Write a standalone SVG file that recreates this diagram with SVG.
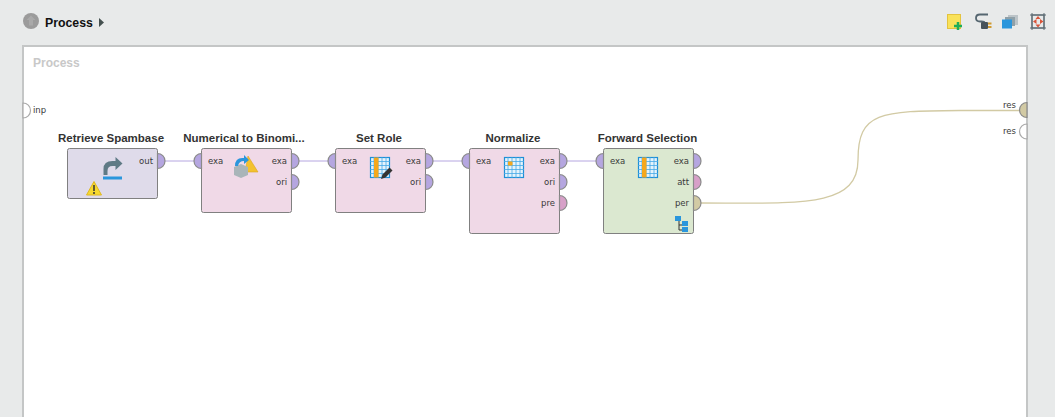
<svg xmlns="http://www.w3.org/2000/svg" width="1055" height="417" viewBox="0 0 1055 417">
<style>
.t{font-family:"Liberation Sans",Arial,sans-serif;font-size:11.500px;font-weight:bold;fill:#333;text-anchor:middle}
.p{font-family:"DejaVu Sans",sans-serif;font-size:8.500px;fill:#3a3a3a}
.e{text-anchor:end}
.n{stroke:#808080;stroke-width:1}
.pin{stroke:#8a8a8a;stroke-width:1.200}
.ex{fill:#b5a6e0}.pr{fill:#d7a0c8}.pe{fill:#d2caa4}.em{fill:#fff;stroke:#aaa}
.c{fill:none;stroke:#b5a6e0;stroke-width:1}
</style>
<defs>
<g id="grid"><rect x="0.500" y="0.500" width="19" height="20" fill="#e4f3fc" stroke="#1f8fd6" stroke-width="1.200"/><path d="M0 4.500H20M0 8.500H20M0 12.500H20M0 16.500H20M4 0V21M8 0V21M12 0V21M16 0V21" stroke="#45a8e6" stroke-width=".8" fill="none"/></g>
</defs>
<rect width="1055" height="417" fill="#e8eaea"/>
<g id="header">
<circle cx="31" cy="21" r="8" fill="#9b9b9b"/><path d="M31 15.500l-4.500 4.500h2.500v5.500h4V20h2.500z" fill="#a9a9a9"/>
<text x="45" y="27" font-family="Liberation Sans,Arial,sans-serif" font-size="12.300" font-weight="bold" fill="#111">Process</text>
<path d="M99 18l5 4.500-5 4.500z" fill="#44504f"/>
</g>
<g id="toolbar">
<rect x="947.500" y="14.500" width="13" height="14" fill="#f9e25a" stroke="#e3c33f"/><path d="M958 22v8M954 26h8" stroke="#1fae5a" stroke-width="2.500"/>
<path d="M988 14.500h-8q-4 0-4 3.500t4 3.500h1.500q3 0 3 1.500" fill="none" stroke="#556670" stroke-width="1.800"/><rect x="981" y="22" width="7" height="7" rx="1" fill="#46525a"/><path d="M988 23.500h3.500M988 27h3.500" stroke="#d09a30" stroke-width="1.800"/>
<rect x="1008" y="15" width="10" height="10" fill="#bcc4c8"/><rect x="1005" y="17" width="10" height="9" fill="#8fa0a8"/><rect x="1002" y="19.500" width="10" height="9" fill="#2a96dc"/>
<rect x="1032" y="15" width="12" height="13" fill="none" stroke="#5d6b73" stroke-width="1.200"/><path d="M1030 15h16M1030 28h16M1032 13v17M1044 13v17" stroke="#5d6b73" stroke-width="1"/><path d="M1038 16l2.500 3h-5zM1038 27.500l2.500-3h-5zM1033 21.500l3.500-2.500v5zM1043.500 21.500l-3.500-2.500v5z" fill="#d9553a"/>
</g>
<rect id="canvas" x="23" y="46" width="1004" height="373" fill="#fff" stroke="#c4c6c6" stroke-width="2"/>
<text x="33" y="67" font-family="Liberation Sans,Arial,sans-serif" font-size="12" font-weight="bold" fill="#c8c8c8">Process</text>
<g id="connectors">
<path class="c" d="M164 161H195M298 161H329M432 161H463M566 161H597"/>
<path d="M700 203C800 203 858 208 858 160C858 112 880 111 960 110.500L1020 110.500" fill="none" stroke="#d2caa4" stroke-width="1.300"/>
</g>
<g id="process-ports">
<path class="pin em" d="M23 103a7.500 7.500 0 0 1 0 15z"/><text class="p" x="33" y="113">inp</text>
<path class="pin pe" d="M1027 102.500a7.500 7.500 0 0 0 0 15z"/><text class="p e" x="1016" y="108">res</text>
<path class="pin em" d="M1027 124a7.500 7.500 0 0 0 0 15z"/><text class="p e" x="1016" y="134">res</text>
</g>
<g id="retrieve-spambase">
<text class="t" x="111" y="142">Retrieve Spambase</text>
<rect class="n" x="67.500" y="148.500" width="90" height="50" rx="2" fill="#dfdbea"/>
<path d="M103.500 175v-6q0-8 9-8h3v-4l7 6.500-7 6.500v-4h-3q-5 0-5 5v4z" fill="#5f7a85"/><rect x="103" y="176.500" width="19" height="3" fill="#2a96dc"/>
<path d="M94 181.500l7.500 13.500H86.500z" fill="#f6d92f" stroke="#e0b820"/><path d="M94 185v6M94 192v2" stroke="#333" stroke-width="1.500"/>
<path class="pin ex" d="M157.500 153.500a7.500 7.500 0 0 1 0 15z"/><text class="p e" x="153" y="164">out</text>
</g>
<g id="numerical-to-binominal">
<text class="t" x="244" y="142">Numerical to Binomi...</text>
<rect class="n" x="201.500" y="148.500" width="90" height="64" rx="2" fill="#f0d9e7"/>
<path d="M248 156l10 16h-13z" fill="#f3c22f" stroke="#dba520" stroke-width=".6"/>
<path d="M234 167l7-3 7 3v8l-7 3-7-3z" fill="#a9b5b9"/><path d="M235 166q0-9 9-8v-3l5 5-5 4v-3q-5 0-6 5z" fill="#2a96dc"/>
<path class="pin ex" d="M201.500 153.500a7.500 7.500 0 0 0 0 15z"/><text class="p" x="208" y="164">exa</text>
<path class="pin ex" d="M291.500 153.500a7.500 7.500 0 0 1 0 15z"/><text class="p e" x="287" y="164">exa</text>
<path class="pin ex" d="M291.500 174.500a7.500 7.500 0 0 1 0 15z"/><text class="p e" x="287" y="185">ori</text>
</g>
<g id="set-role">
<text class="t" x="379" y="142">Set Role</text>
<rect class="n" x="335.500" y="148.500" width="90" height="64" rx="2" fill="#f0d9e7"/>
<use href="#grid" x="370" y="157"/><rect x="374" y="157.500" width="4.500" height="20" fill="#f5a81c"/>
<path d="M381 179l1.500-4.500 7-7 3 3-7 7z" fill="#333"/>
<path class="pin ex" d="M335.500 153.500a7.500 7.500 0 0 0 0 15z"/><text class="p" x="342" y="164">exa</text>
<path class="pin ex" d="M425.500 153.500a7.500 7.500 0 0 1 0 15z"/><text class="p e" x="421" y="164">exa</text>
<path class="pin ex" d="M425.500 174.500a7.500 7.500 0 0 1 0 15z"/><text class="p e" x="421" y="185">ori</text>
</g>
<g id="normalize">
<text class="t" x="513" y="142">Normalize</text>
<rect class="n" x="469.500" y="148.500" width="90" height="85" rx="2" fill="#f0d9e7"/>
<use href="#grid" x="504" y="157"/><rect x="508" y="161.500" width="4.500" height="4" fill="#f5a81c"/>
<path class="pin ex" d="M469.500 153.500a7.500 7.500 0 0 0 0 15z"/><text class="p" x="476" y="164">exa</text>
<path class="pin ex" d="M559.500 153.500a7.500 7.500 0 0 1 0 15z"/><text class="p e" x="555" y="164">exa</text>
<path class="pin ex" d="M559.500 174.500a7.500 7.500 0 0 1 0 15z"/><text class="p e" x="555" y="185">ori</text>
<path class="pin pr" d="M559.500 195.500a7.500 7.500 0 0 1 0 15z"/><text class="p e" x="555" y="206">pre</text>
</g>
<g id="forward-selection">
<text class="t" x="647.500" y="142">Forward Selection</text>
<rect class="n" x="603.500" y="148.500" width="90" height="85" rx="2" fill="#dbe8d0"/>
<use href="#grid" x="638" y="157"/><rect x="642" y="157.500" width="4.500" height="20" fill="#f5a81c"/>
<path d="M679 219v11h6M679 225h6" fill="none" stroke="#333" stroke-width="1"/>
<rect x="675" y="216" width="6" height="5" fill="#2a96dc"/><rect x="682" y="221" width="6" height="5" fill="#2a96dc"/><rect x="682" y="227" width="6" height="5" fill="#2a96dc"/>
<path class="pin ex" d="M603.500 153.500a7.500 7.500 0 0 0 0 15z"/><text class="p" x="610" y="164">exa</text>
<path class="pin ex" d="M693.500 153.500a7.500 7.500 0 0 1 0 15z"/><text class="p e" x="689" y="164">exa</text>
<path class="pin pr" d="M693.500 174.500a7.500 7.500 0 0 1 0 15z"/><text class="p e" x="689" y="185">att</text>
<path class="pin pe" d="M693.500 195.500a7.500 7.500 0 0 1 0 15z"/><text class="p e" x="689" y="206">per</text>
</g>
</svg>
